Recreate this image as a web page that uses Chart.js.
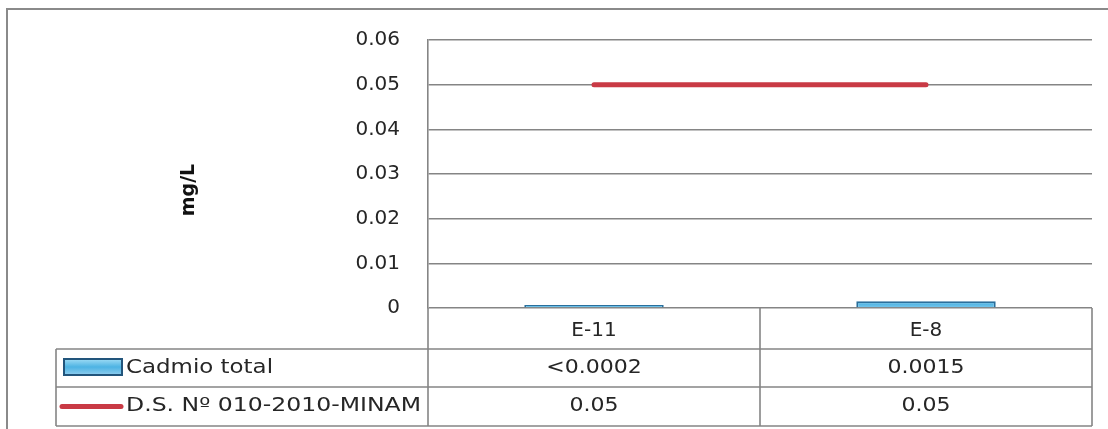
<!DOCTYPE html>
<html><head><meta charset="utf-8">
<script src="https://cdn.jsdelivr.net/npm/chart.js@4.4.0/dist/chart.umd.min.js"></script>
<style>html,body{margin:0;padding:0;background:#fff;overflow:hidden}canvas{display:block}</style>
</head><body>
<canvas id="c" width="1108" height="429"></canvas>
<script>
const categories = ['E-11', 'E-8'];
const cadmioValues = [0.0002, 0.0015];
const cadmioLabels = ['<0.0002', '0.0015'];
const limitValues = [0.05, 0.05];
const limitLabels = ['0.05', '0.05'];
const seriesNames = ['Cadmio total', 'D.S. Nº 010-2010-MINAM'];
const yTickLabels = ['0', '0.01', '0.02', '0.03', '0.04', '0.05', '0.06'];
const yAxisTitle = 'mg/L';

const TEXT = '#262626';
const LINE = '#858585';
const RED = '#C93A45';
const FONT = '"DejaVu Sans", sans-serif';

function stretchText(ctx, txt, x, y, align, font, sx, targetW) {
  ctx.save();
  ctx.font = font;
  ctx.fillStyle = TEXT;
  ctx.textBaseline = 'middle';
  const mw = ctx.measureText(txt).width;
  if (targetW) sx = targetW / mw;
  const w = mw * sx;
  let left = x;
  if (align === 'center') left = x - w / 2;
  else if (align === 'right') left = x - w;
  ctx.translate(left, y);
  ctx.scale(sx, 1);
  ctx.textAlign = 'left';
  ctx.fillText(txt, 0, 0);
  ctx.restore();
}

const tablePlugin = {
  id: 'tablePlugin',
  afterDraw(chart) {
    const ctx = chart.ctx;
    const ca = chart.chartArea;
    const xs = chart.scales.x;
    const L = ca.left, R = ca.right, T = ca.bottom;
    const r1 = 349, r2 = 387, r3 = 426;
    const legL = 56;
    const mid = (xs.getPixelForValue(0) + xs.getPixelForValue(1)) / 2;
    ctx.save();
    ctx.strokeStyle = LINE;
    ctx.lineWidth = 1.6;
    ctx.beginPath();
    ctx.moveTo(legL, r1); ctx.lineTo(R, r1);
    ctx.moveTo(legL, r2); ctx.lineTo(R, r2);
    ctx.moveTo(legL, r3); ctx.lineTo(R, r3);
    ctx.moveTo(L, T); ctx.lineTo(L, r3);
    ctx.moveTo(mid, T); ctx.lineTo(mid, r3);
    ctx.moveTo(R, T); ctx.lineTo(R, r3);
    ctx.moveTo(legL, r1); ctx.lineTo(legL, r3);
    ctx.stroke();
    ctx.strokeStyle = '#8a8a8a';
    ctx.lineWidth = 2;
    ctx.beginPath();
    ctx.moveTo(7, 440); ctx.lineTo(7, 9); ctx.lineTo(1120, 9);
    ctx.stroke();
    ctx.restore();

    ctx.save();
    const g = ctx.createLinearGradient(0, 359, 0, 375);
    g.addColorStop(0, '#9fdcf5'); g.addColorStop(0.5, '#4db3e3'); g.addColorStop(1, '#8fcdee');
    ctx.fillStyle = g;
    ctx.fillRect(64, 359, 58, 16);
    ctx.strokeStyle = '#22557c';
    ctx.lineWidth = 2;
    ctx.strokeRect(64, 359, 58, 16);
    ctx.strokeStyle = RED;
    ctx.lineWidth = 5;
    ctx.lineCap = 'round';
    ctx.beginPath();
    ctx.moveTo(62, (r2 + r3) / 2); ctx.lineTo(121, (r2 + r3) / 2);
    ctx.stroke();
    ctx.restore();

    const f = '19px ' + FONT;
    stretchText(ctx, seriesNames[0], 126, (r1 + r2) / 2, 'left', f, 1, 147);
    stretchText(ctx, seriesNames[1], 126, (r2 + r3) / 2, 'left', f, 1, 295);
    for (let i = 0; i < categories.length; i++) {
      const cx = xs.getPixelForValue(i);
      stretchText(ctx, cadmioLabels[i], cx, (r1 + r2) / 2, 'center', f, 1.16);
      stretchText(ctx, limitLabels[i], cx, (r2 + r3) / 2, 'center', f, 1.16);
    }
    ctx.save();
    ctx.translate(189, 190);
    ctx.rotate(-Math.PI / 2);
    ctx.font = 'bold 19px ' + FONT;
    ctx.fillStyle = '#111';
    ctx.textAlign = 'center';
    ctx.textBaseline = 'middle';
    ctx.fillText(yAxisTitle, 0, 0);
    ctx.restore();
  }
};

const ctx = document.getElementById('c').getContext('2d');
const barGrad = ctx.createLinearGradient(0, 295, 0, 310);
barGrad.addColorStop(0, '#a8e0f7'); barGrad.addColorStop(0.5, '#45b0e2'); barGrad.addColorStop(1, '#8fd0ef');

new Chart(ctx, {
  type: 'bar',
  data: {
    labels: categories,
    datasets: [
      {
        type: 'line',
        label: seriesNames[1],
        data: limitValues,
        borderColor: RED,
        backgroundColor: RED,
        borderWidth: 5,
        borderCapStyle: 'round',
        pointRadius: 0,
        fill: false,
        order: 0
      },
      {
        type: 'bar',
        label: seriesNames[0],
        data: cadmioValues,
        backgroundColor: barGrad,
        borderColor: '#2a6f9c',
        borderWidth: 2,
        minBarLength: 3,
        categoryPercentage: 1,
        barPercentage: 0.42,
        order: 1
      }
    ]
  },
  options: {
    responsive: false,
    animation: false,
    devicePixelRatio: 1,
    layout: { padding: { left: 0, right: 16, top: 36, bottom: 0 } },
    plugins: { legend: { display: false }, tooltip: { enabled: false } },
    scales: {
      y: {
        min: 0, max: 0.06,
        afterFit(s) { s.width = 428; },
        ticks: {
          stepSize: 0.01,
          padding: 28,
          color: TEXT,
          font: { family: FONT, size: 20 },
          callback: (v, i) => yTickLabels[i]
        },
        grid: { color: LINE, lineWidth: 1.6, drawTicks: false },
        border: { display: true, color: LINE, width: 1.6 }
      },
      x: {
        afterFit(s) { s.height = 121; },
        ticks: {
          padding: 11,
          color: TEXT,
          font: { family: FONT, size: 20 }
        },
        grid: { display: false, drawTicks: false },
        border: { display: false }
      }
    }
  },
  plugins: [tablePlugin]
});
</script>
</body></html>
